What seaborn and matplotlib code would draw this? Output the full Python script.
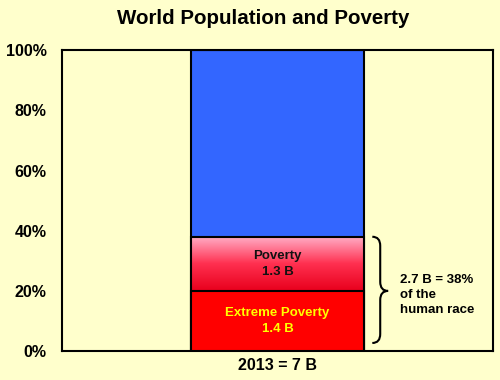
import numpy as np
import matplotlib
matplotlib.use("Agg")
import matplotlib.pyplot as plt
from matplotlib.path import Path
from matplotlib.patches import PathPatch
from matplotlib.colors import LinearSegmentedColormap
import seaborn as sns

# data (share of world population, %)
year_label = ["2013 = 7 B"]
segments = ["Extreme Poverty", "Poverty", "Rest"]
shares = [20, 18, 62]
seg_labels = ["Extreme Poverty\n1.4 B", "Poverty\n1.3 B", ""]
yticks = [0, 20, 40, 60, 80, 100]
bracket_text = "2.7 B = 38%\nof the\nhuman race"

bg = "#FFFFCC"
sns.set_theme(style="white")
plt.rcParams["font.family"] = ["Liberation Sans", "DejaVu Sans"]
plt.rcParams["font.weight"] = "bold"
for k in ["text.color", "axes.labelcolor", "xtick.color", "ytick.color"]:
    plt.rcParams[k] = "black"

fig = plt.figure(figsize=(5, 3.8), dpi=100, facecolor=bg)
ax = fig.add_axes([0.124, 0.076, 0.862, 0.792])
ax.set_facecolor(bg)

cum = np.cumsum(shares)
bar_w = 0.6

# stacked bar drawn as overlapping cumulative bars
sns.barplot(x=year_label, y=[cum[2]], color="#3366FF", saturation=1, width=bar_w,
            edgecolor="black", linewidth=1.5, ax=ax, zorder=1)
sns.barplot(x=year_label, y=[cum[1]], color="none", saturation=1, width=bar_w,
            edgecolor="black", linewidth=1.5, ax=ax, zorder=3)
sns.barplot(x=year_label, y=[cum[0]], color="#FF0000", saturation=1, width=bar_w,
            edgecolor="black", linewidth=1.5, ax=ax, zorder=4)

# gradient fill for the poverty band
grad = LinearSegmentedColormap.from_list("pov", ["#E8001C", "#FF3050", "#FFB0C8"])
ax.imshow(np.linspace(0, 1, 256).reshape(-1, 1), cmap=grad, origin="lower",
          aspect="auto", extent=(-bar_w / 2, bar_w / 2, cum[0], cum[1]), zorder=2)

ax.text(0, cum[0] / 2, seg_labels[0], ha="center", va="center", color="#FFFF00",
        fontsize=9.5, fontweight="bold", linespacing=1.45, zorder=5)
ax.text(0, (cum[0] + cum[1]) / 2, seg_labels[1], ha="center", va="center", color="#111111",
        fontsize=9.5, fontweight="bold", linespacing=1.45, zorder=5)

# curly brace
x0, w = 0.33, 0.055
top, bot = cum[1], 2.7
mid = cum[0]
r = 3.0
verts = [(x0, top), (x0 + w / 2, top), (x0 + w / 2, top - r),
         (x0 + w / 2, mid + r),
         (x0 + w / 2, mid), (x0 + w, mid),
         (x0 + w / 2, mid), (x0 + w / 2, mid - r),
         (x0 + w / 2, bot + r),
         (x0 + w / 2, bot), (x0, bot)]
codes = [Path.MOVETO, Path.CURVE3, Path.CURVE3, Path.LINETO,
         Path.CURVE3, Path.CURVE3, Path.CURVE3, Path.CURVE3,
         Path.LINETO, Path.CURVE3, Path.CURVE3]
ax.add_patch(PathPatch(Path(verts, codes), fill=False, lw=1.5, color="black", zorder=5))
ax.text(0.425, 18.6, bracket_text, ha="left", va="center", fontsize=9.5,
        fontweight="bold", linespacing=1.35, color="black")

ax.set_xlim(-0.75, 0.75)
ax.set_ylim(0, 100)
ax.set_yticks(yticks)
ax.set_yticklabels([f"{t}%" for t in yticks], fontsize=11.5, fontweight="bold")
for lbl in ax.get_xticklabels():
    lbl.set_fontsize(11.5)
    lbl.set_fontweight("bold")
ax.tick_params(axis="y", length=0, pad=11)
ax.tick_params(axis="x", length=0, pad=5)
ax.set_xlabel("")
ax.set_ylabel("")
for s in ax.spines.values():
    s.set_visible(True)
    s.set_color("black")
    s.set_linewidth(1.5)

fig.text(0.526, 0.952, "World Population and Poverty", ha="center", va="center",
         fontsize=14.8, fontweight="bold")

fig.savefig("out.png", dpi=100, facecolor=bg)
